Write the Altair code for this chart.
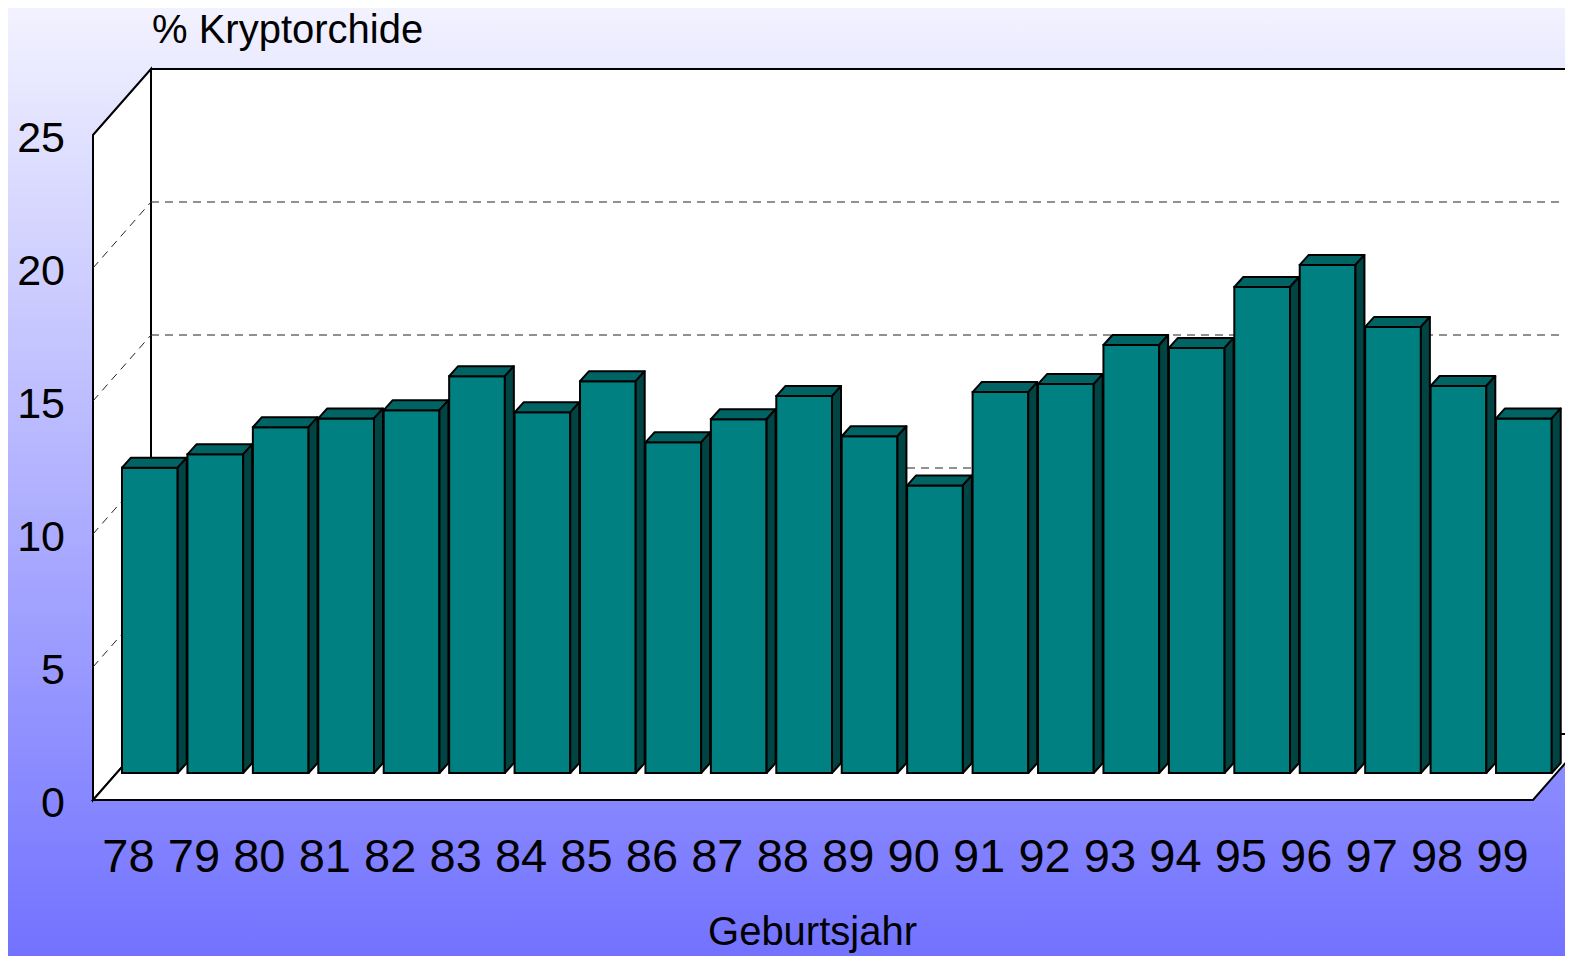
import altair as alt
import pandas as pd

# ---------------- data ----------------
years = ["78", "79", "80", "81", "82", "83", "84", "85", "86", "87", "88",
         "89", "90", "91", "92", "93", "94", "95", "96", "97", "98", "99"]
values = [11.48, 11.98, 13.00, 13.33, 13.64, 14.92, 13.56, 14.73, 12.43, 13.30, 14.17,
          12.66, 10.81, 14.32, 14.62, 16.09, 15.98, 18.27, 19.10, 16.77, 14.55, 13.33]
y_ticks = [0, 5, 10, 15, 20, 25]
grid_vals = [5, 10, 15, 20]
y_title = "% Kryptorchide"
x_title = "Geburtsjahr"

# ---------------- geometry (in data units) ----------------
W, H = 1557, 948
S = 65.43          # px per category slot
K = 26.6           # px per percent unit
X0 = 114           # px of first bar's left edge
Y0 = 792           # px of front floor (value 0)
xa = -X0 / S
xb = xa + W / S
ya = (Y0 - H) / K
yb = Y0 / K

WX = 58 / S        # wall depth in x units
WY = 66 / K        # wall depth in y units
FL = -29 / S       # front-left corner of the box
BL = FL + WX       # back-left corner
FR = 1411 / S      # front-right end of floor
TOP = 25
BASE = 27 / K      # bars stand on the middle of the floor
BW = 55.7 / S      # bar width
DX = 9 / S         # bar depth x
DY = 10 / K        # bar depth y

xs = alt.Scale(domain=[xa, xb], nice=False, zero=False)
ys = alt.Scale(domain=[ya, yb], nice=False, zero=False)


def X(f):
    return alt.X(f, type="quantitative", scale=xs, axis=None)


def Y(f):
    return alt.Y(f, type="quantitative", scale=ys, axis=None)


FONT = "Liberation Sans"

# ---------------- background ----------------
bg_df = pd.DataFrame({"x": [xa], "x2": [xb], "y": [ya], "y2": [yb]})
bg = alt.Chart(bg_df).mark_rect(
    fill=alt.Gradient(
        gradient="linear",
        stops=[alt.GradientStop(color="#f2f2ff", offset=0),
               alt.GradientStop(color="#7272ff", offset=1)],
        x1=0, x2=0, y1=0, y2=1),
    strokeWidth=0,
).encode(x=X("x"), x2="x2", y=Y("y"), y2="y2")

# ---------------- walls ----------------
back_df = pd.DataFrame({"x": [BL], "x2": [xb + 2], "y": [WY], "y2": [TOP + WY]})
back = alt.Chart(back_df).mark_rect(
    fill="white", stroke="black", strokeWidth=2, clip=True
).encode(x=X("x"), x2="x2", y=Y("y"), y2="y2")

left_df = pd.DataFrame({"x": [FL, BL], "lo": [0, WY], "hi": [TOP, TOP + WY]})
left = alt.Chart(left_df).mark_area(
    fill="white", stroke="black", strokeWidth=2, orient="vertical", clip=True
).encode(x=X("x"), y=Y("lo"), y2="hi")

floor_df = pd.DataFrame({"x": [FL, BL, FR, FR + WX],
                         "lo": [0, 0, 0, WY],
                         "hi": [0, WY, WY, WY]})
floor = alt.Chart(floor_df).mark_area(
    fill="white", stroke="black", strokeWidth=2, orient="vertical", clip=True
).encode(x=X("x"), y=Y("lo"), y2="hi")

# gridlines
grid_back_df = pd.DataFrame({"v": grid_vals})
grid_back_df["x"] = BL
grid_back_df["x2"] = xb + 2
grid_back_df["y"] = grid_back_df["v"] + WY
grid_back = alt.Chart(grid_back_df).mark_rule(
    color="#222222", strokeWidth=1, strokeDash=[8, 6], clip=True
).encode(x=X("x"), x2="x2", y=Y("y"))

grid_left_df = pd.DataFrame({"v": grid_vals})
grid_left_df["x"] = FL
grid_left_df["x2"] = BL
grid_left_df["y2"] = grid_left_df["v"] + WY
grid_left = alt.Chart(grid_left_df).mark_rule(
    color="#222222", strokeWidth=1, strokeDash=[8, 6]
).encode(x=X("x"), x2="x2", y=Y("v"), y2="y2")

# ---------------- bars ----------------
front_rows, top_rows, side_rows = [], [], []
for i, (yr, v) in enumerate(zip(years, values)):
    x0 = i
    x1 = i + BW
    t = BASE + v
    front_rows.append({"yr": yr, "x": x0, "x2": x1, "y": BASE, "y2": t})
    for px, lo, hi in [(x0, t, t), (x0 + DX, t, t + DY), (x1, t, t + DY), (x1 + DX, t + DY, t + DY)]:
        top_rows.append({"yr": yr, "x": px, "lo": lo, "hi": hi})
    for px, lo, hi in [(x1, BASE, t), (x1 + DX, BASE + DY, t + DY)]:
        side_rows.append({"yr": yr, "x": px, "lo": lo, "hi": hi})

front = alt.Chart(pd.DataFrame(front_rows)).mark_rect(
    fill="#008080", stroke="black", strokeWidth=2
).encode(x=X("x"), x2="x2", y=Y("y"), y2="y2")

top = alt.Chart(pd.DataFrame(top_rows)).mark_area(
    fill="#006464", stroke="black", strokeWidth=2, orient="vertical", strokeJoin="round"
).encode(x=X("x"), y=Y("lo"), y2="hi", detail="yr:N")

side = alt.Chart(pd.DataFrame(side_rows)).mark_area(
    fill="#004444", stroke="black", strokeWidth=2, orient="vertical", strokeJoin="round"
).encode(x=X("x"), y=Y("lo"), y2="hi", detail="yr:N")

# ---------------- text ----------------
ylab_df = pd.DataFrame({"v": y_ticks, "lab": [str(t) for t in y_ticks]})
ylab_df["x"] = -57 / S
ylabels = alt.Chart(ylab_df).mark_text(
    align="right", baseline="alphabetic", dy=17, fontSize=43, font=FONT, color="black"
).encode(x=X("x"), y=Y("v"), text="lab:N")

xlab_df = pd.DataFrame({"lab": years})
xlab_df["x"] = [i + 6.5 / S for i in range(len(years))]
xlab_df["y"] = -72 / K
xlabels = alt.Chart(xlab_df).mark_text(
    align="center", baseline="alphabetic", fontSize=47, font=FONT, color="black"
).encode(x=X("x"), y=Y("y"), text="lab:N")

titles_df = pd.DataFrame({
    "lab": [y_title, x_title],
    "x": [30 / S, 690.5 / S],
    "y": [757 / K, -145 / K],
})
ytitle = alt.Chart(titles_df.iloc[[0]]).mark_text(
    align="left", baseline="alphabetic", fontSize=40, font=FONT, color="black"
).encode(x=X("x"), y=Y("y"), text="lab:N")
xtitle = alt.Chart(titles_df.iloc[[1]]).mark_text(
    align="center", baseline="alphabetic", fontSize=40, font=FONT, color="black"
).encode(x=X("x"), y=Y("y"), text="lab:N")

chart = alt.layer(
    bg, back, left, floor, grid_back, grid_left, front, top, side,
    ylabels, xlabels, ytitle, xtitle
).properties(
    width=W, height=H, autosize=alt.AutoSizeParams(type="none"), padding=0
).configure_view(stroke=None)

chart.save("out.html", embed_options={"renderer": "svg", "actions": False})
